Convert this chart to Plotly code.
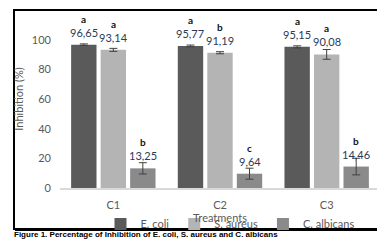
import plotly.graph_objects as go

treatments = ["C1", "C2", "C3"]
series_names = ["E. coli", "S. aureus", "C. albicans"]
ecoli = [96.65, 95.77, 95.15]
saureus = [93.14, 91.19, 90.08]
calbicans = [13.25, 9.64, 14.46]
ecoli_err = [0.5, 0.6, 0.7]
saureus_err = [1.0, 0.7, 3.3]
calbicans_err = [3.8, 3.7, 5.6]
ecoli_letters = ["a", "a", "a"]
saureus_letters = ["a", "b", "a"]
calbicans_letters = ["b", "c", "b"]
y_ticks = [0, 20, 40, 60, 80, 100]

values = [ecoli, saureus, calbicans]
errors = [ecoli_err, saureus_err, calbicans_err]
letters = [ecoli_letters, saureus_letters, calbicans_letters]
colors = ["#5a5a5a", "#b4b4b4", "#8a8a8a"]

W, H = 385, 241
SHIFT = 8  # page offset observed in the rendered screenshot
PLOT_TOP, PLOT_BOTTOM = 10, 188
ML, MR = 52, 13
MT = PLOT_TOP - SHIFT
MB = H - (PLOT_BOTTOM - SHIFT)
PW = W - ML - MR
PH = PLOT_BOTTOM - PLOT_TOP
FONT = "Lato"
GRAY = "#595959"

fig = go.Figure()
for name, v, e, c in zip(series_names, values, errors, colors):
    fig.add_trace(go.Bar(
        name=name, x=treatments, y=v, marker=dict(color=c, line=dict(width=0)),
        error_y=dict(type="data", array=e, visible=True, color="#404040",
                     thickness=1, width=4),
    ))

# data labels and significance letters
slot = PW / len(treatments) * (1 - 0.17) / 3
for i, (v, lt) in enumerate(zip(values, letters)):
    shift = (i - 1) * slot
    for t, val, l in zip(treatments, v, lt):
        fig.add_annotation(x=t, y=val, xref="x", yref="y", xshift=shift, yshift=4,
                           text=f"{val:.2f}".replace(".", ","), showarrow=False,
                           yanchor="bottom", font=dict(family=FONT, size=11, color="#2b3a55"))
        fig.add_annotation(x=t, y=val, xref="x", yref="y", xshift=shift, yshift=18,
                           text=f"<b>{l}</b>", showarrow=False,
                           yanchor="bottom", font=dict(family=FONT, size=10, color="#111111"))

def px_x(px):
    return (px - ML) / PW

def px_y(py):
    return (PLOT_BOTTOM - py) / PH

# frame around the chart
fig.add_shape(type="rect", xref="paper", yref="paper",
              x0=px_x(6), x1=px_x(379), y0=px_y(229), y1=px_y(10),
              line=dict(color="black", width=2), layer="below")
fig.add_shape(type="line", xref="paper", yref="paper",
              x0=px_x(380), x1=px_x(380), y0=px_y(231), y1=px_y(11),
              line=dict(color="black", width=3))
fig.add_shape(type="line", xref="paper", yref="paper",
              x0=px_x(7), x1=px_x(381), y0=px_y(230), y1=px_y(230),
              line=dict(color="black", width=2))

fig.add_annotation(xref="paper", yref="paper", x=px_x(4), y=px_y(241),
                   xanchor="left", yanchor="bottom", showarrow=False,
                   text="<b>Figure 1. Percentage of Inhibition of E. coli, S. aureus and C. albicans</b>",
                   font=dict(family="Liberation Sans", size=8, color="black"))

fig.update_layout(
    width=W, height=H, margin=dict(l=ML, r=MR, t=MT, b=MB, autoexpand=False),
    paper_bgcolor="white", plot_bgcolor="white",
    barmode="group", bargap=0.17, bargroupgap=0.14,
    font=dict(family=FONT, size=11, color=GRAY),
    showlegend=True,
    legend=dict(orientation="h", x=px_x(222), xanchor="center", y=px_y(224), yanchor="middle",
                font=dict(family=FONT, size=11, color=GRAY), itemwidth=30,
                tracegroupgap=0, bgcolor="rgba(0,0,0,0)", entrywidth=0),
    xaxis=dict(showline=True, linecolor="#d9d9d9", linewidth=2, ticks="",
               ticklabelstandoff=6, automargin=False,
               tickfont=dict(family=FONT, size=11, color=GRAY),
               title=dict(text="Treatments", standoff=0,
                          font=dict(family=FONT, size=11, color=GRAY))),
    yaxis=dict(range=[0, 120], tickvals=y_ticks, showgrid=False, zeroline=False,
               showline=False, ticks="", ticklabelstandoff=8, automargin=False,
               tickfont=dict(family=FONT, size=11, color=GRAY),
               title=dict(text="Inhibition (%)", standoff=6,
                          font=dict(family=FONT, size=11, color=GRAY))),
)

fig.write_html("out.html")
